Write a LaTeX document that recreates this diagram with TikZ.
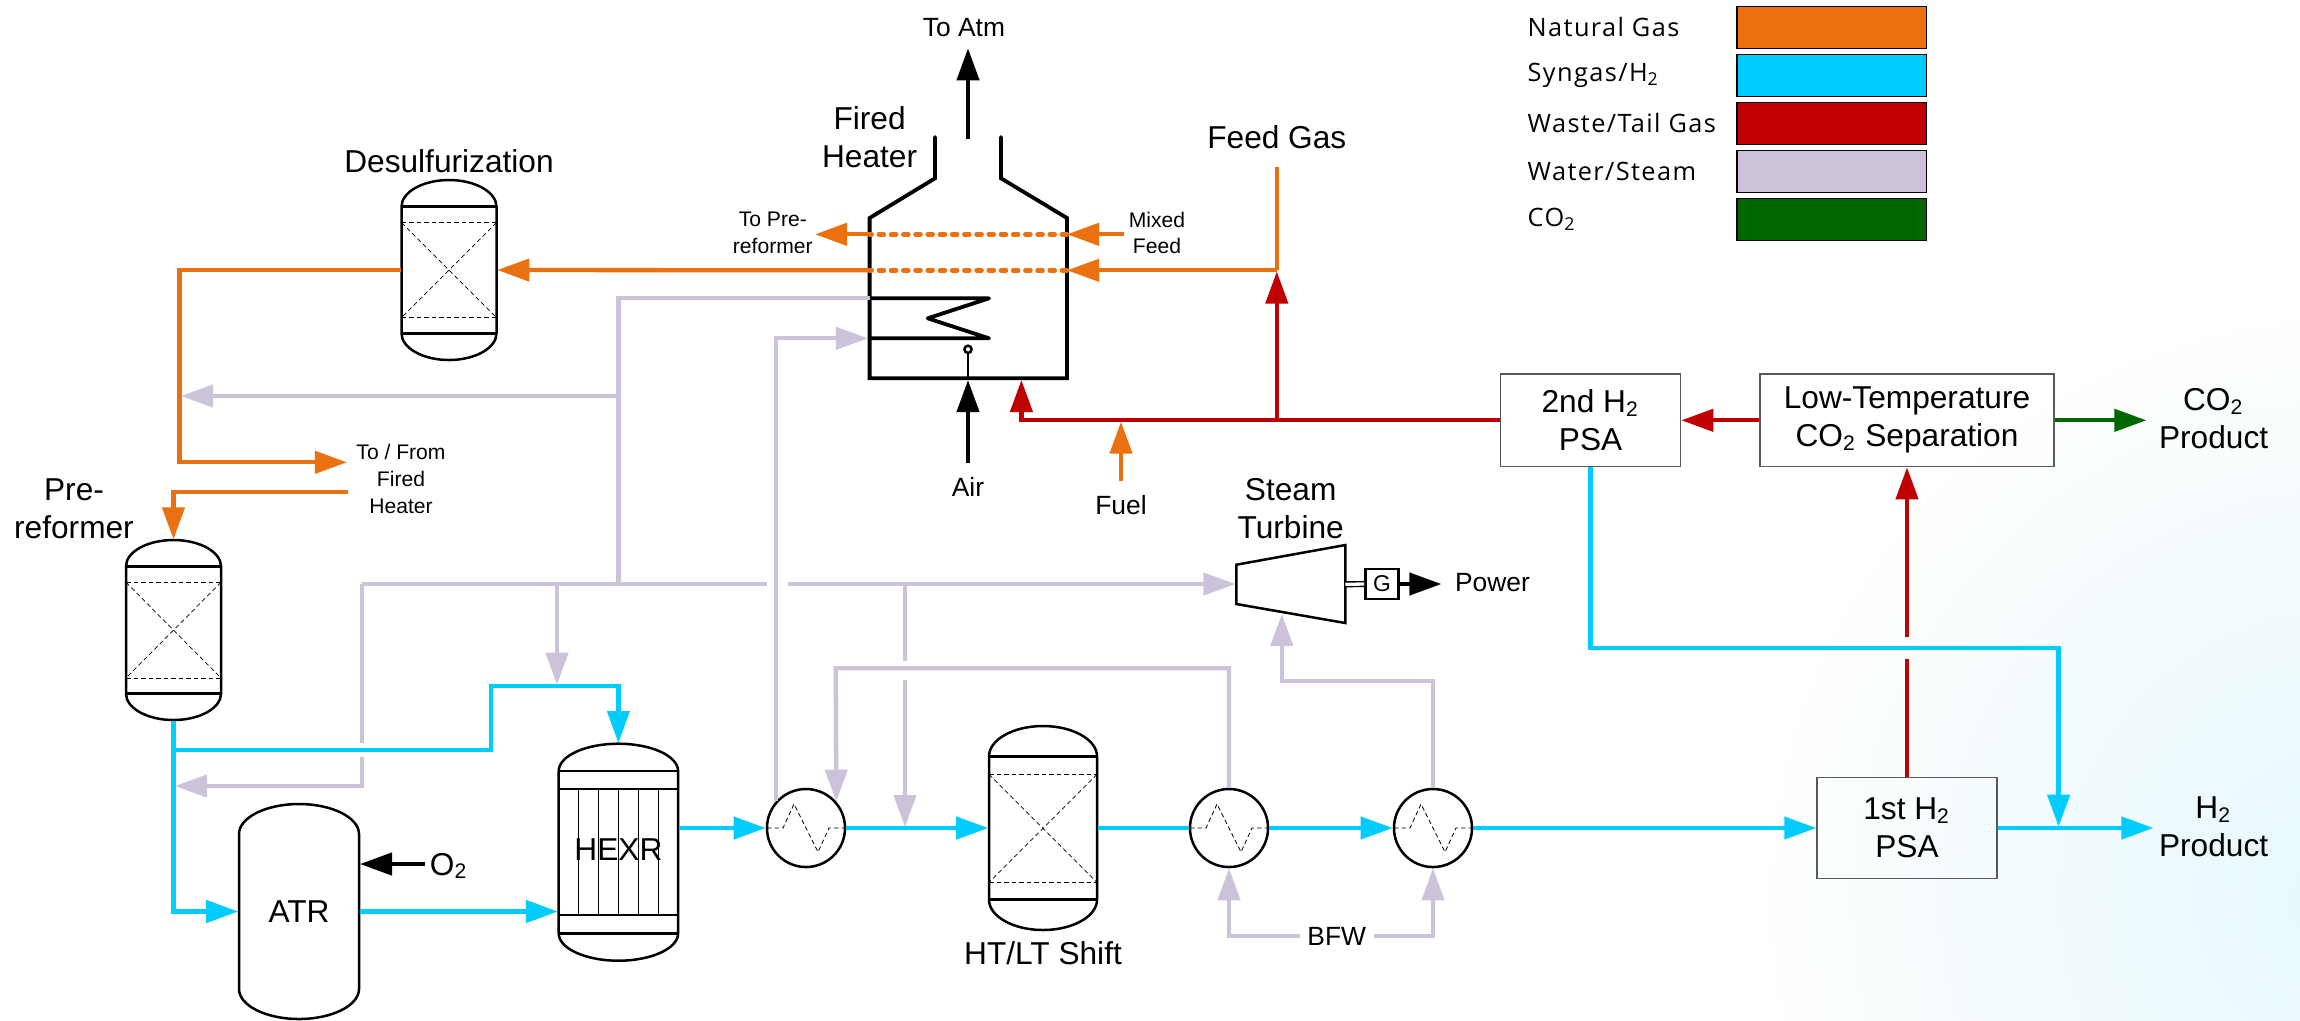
\documentclass[tikz,border=0pt]{standalone}
\usepackage{fontspec}
\setmainfont{Liberation Sans}
\newfontfamily\legendfont[LetterSpace=5.5]{Open Sans}
\usepackage{xcolor}
\usetikzlibrary{arrows.meta}
\definecolor{myorange}{RGB}{235,113,16}
\definecolor{myblue}{RGB}{0,204,255}
\definecolor{myred}{RGB}{192,0,0}
\definecolor{mypurple}{RGB}{204,195,219}
\definecolor{mygreen}{RGB}{0,102,0}
\definecolor{mybg}{RGB}{229,247,252}
\tikzset{
  arrowend/.style={-{Triangle[length=3.2mm,width=2.2mm]}},
  stream/.style={line width=0.43mm,line join=miter},
  gasline/.style={stream,myorange},
  synline/.style={stream,myblue},
  tailline/.style={stream,myred},
  steamline/.style={stream,mypurple},
  coline/.style={stream,mygreen},
  blackline/.style={stream,black},
  vesselline/.style={line width=0.25mm,black},
  heaterline/.style={line width=0.38mm,black,line join=miter},
  thindash/.style={line width=0.1mm,black,dash pattern=on 0.45mm off 0.3mm},
  dotline/.style={line width=0.46mm,myorange,line cap=round,dash pattern=on 0.5mm off 0.72mm},
  bigtext/.style={font=\fontsize{9}{10.8}\selectfont,align=center},
  midtext/.style={font=\fontsize{7.5}{9}\selectfont,align=center},
  smalltext/.style={font=\fontsize{6}{7.6}\selectfont,align=center},
  unitbox/.style={draw=black!65,line width=0.13mm,bigtext,inner sep=0},
  exchanger/.style={draw,circle,vesselline,minimum size=7.8mm,inner sep=0},
  swatch/.style={draw=black,line width=0.14mm,minimum width=18.9mm,minimum height=4.2mm,inner sep=0},
  legendtext/.style={font=\fontsize{7.2}{9}\legendfont,anchor=west,inner sep=0},
}
% vessel: name, centre x, top, bottom, half width, head height
\newcommand{\vessel}[6]{
  \node[inner sep=0,minimum width={#5*0.02cm},minimum height={(#4-#3)*0.01cm}] (#1) at (#2,{(#3+#4)/2}) {};
  \draw[vesselline] ({#2-#5},{#3+#6}) .. controls ({#2-#5},{#3+0.45*#6}) and ({#2-0.55*#5},#3) .. (#2,#3)
    .. controls ({#2+0.55*#5},#3) and ({#2+#5},{#3+0.45*#6}) .. ({#2+#5},{#3+#6})
    -- ({#2+#5},{#4-#6}) .. controls ({#2+#5},{#4-0.45*#6}) and ({#2+0.55*#5},#4) .. (#2,#4)
    .. controls ({#2-0.55*#5},#4) and ({#2-#5},{#4-0.45*#6}) .. ({#2-#5},{#4-#6}) -- cycle;
}
% catalyst bed: centre x, dashed top, dashed bottom, half width
\newcommand{\catbed}[4]{
  \draw[thindash] ({#1-#4},#2) -- ({#1+#4},#2);
  \draw[thindash] ({#1-#4},#3) -- ({#1+#4},#3);
  \draw[thindash,line width=0.07mm] ({#1-#4},#2) -- ({#1+#4},#3);
  \draw[thindash,line width=0.07mm] ({#1+#4},#2) -- ({#1-#4},#3);
}
\newcommand{\hxcoil}[1]{
  \draw[thindash,line width=0.08mm,shift={(#1.center)}] (-39,0) -- (-23,0) -- (-12,-24) -- (12,24) -- (23,0) -- (39,0);
}

\begin{document}
\begin{tikzpicture}[x=0.01cm,y=-0.01cm]
\useasboundingbox (0,0) rectangle (2300,1020);
\begin{scope}
\clip (0,0) rectangle (2300,1020);
\shade[inner color=mybg,outer color=white] (2351,900) circle [radius=617];
\end{scope}

% legend
\node[swatch,fill=myorange] (swgas) at (1831.7,27.2) {};
\node[swatch,fill=myblue] (swsyn) at (1831.7,75.2) {};
\node[swatch,fill=myred] (swtail) at (1831.7,123.2) {};
\node[swatch,fill=mypurple] (swsteam) at (1831.7,171.2) {};
\node[swatch,fill=mygreen] (swco) at (1831.7,219.2) {};
\node[legendtext] (lgas) at (1527,27) {Natural Gas};
\node[legendtext] (lsyn) at (1527,75) {Syngas/H\textsubscript{2}};
\node[legendtext] (ltail) at (1527,123) {Waste/Tail Gas};
\node[legendtext] (lsteam) at (1527,171) {Water/Steam};
\node[legendtext] (lco) at (1527,219) {CO\textsubscript{2}};

% vessels
\vessel{desulf}{449}{180}{360}{47.5}{26.7}
\draw[vesselline] (401.5,206.7) -- (496.5,206.7);
\draw[vesselline] (401.5,333.3) -- (496.5,333.3);
\catbed{449}{222.7}{317.7}{47.5}

\vessel{prerefm}{173.5}{540}{720}{47.5}{26.3}
\draw[vesselline] (126,566.3) -- (221,566.3);
\draw[vesselline] (126,693.7) -- (221,693.7);
\catbed{173.5}{582.3}{678}{47.5}

\vessel{atr}{299}{804}{1019}{60}{30}

\vessel{hexr}{618.4}{743.7}{960.7}{59.7}{27.3}
\draw[vesselline] (558.7,771) -- (678.1,771);
\draw[vesselline] (558.7,933.4) -- (678.1,933.4);
\draw[vesselline,line width=0.13mm] (558.7,789) -- (678.1,789);
\draw[vesselline,line width=0.13mm] (558.7,915) -- (678.1,915);
\draw[vesselline,line width=0.11mm] (578.6,789) -- (578.6,915);
\draw[vesselline,line width=0.11mm] (598.5,789) -- (598.5,915);
\draw[vesselline,line width=0.11mm] (618.4,789) -- (618.4,915);
\draw[vesselline,line width=0.11mm] (638.3,789) -- (638.3,915);
\draw[vesselline,line width=0.11mm] (658.2,789) -- (658.2,915);

\vessel{shiftr}{1043}{726}{930}{54}{30.3}
\draw[vesselline] (989,756.3) -- (1097,756.3);
\draw[vesselline] (989,899.7) -- (1097,899.7);
\catbed{1043}{774.3}{882.3}{54}

\node[exchanger] (hxa) at (806,828) {};
\node[exchanger] (hxb) at (1229,828) {};
\node[exchanger] (hxc) at (1433,828) {};
\hxcoil{hxa}
\hxcoil{hxb}
\hxcoil{hxc}

% fired heater
\draw[heaterline,line cap=round] (935,137) -- (935,178.3) -- (869.6,218) -- (869.6,378.3) -- (1067,378.3) -- (1067,218) -- (1001,178.3) -- (1001,137);
\draw[heaterline,line join=round] (869.6,298.3) -- (989,298.3) -- (927.7,318.3) -- (989,338.3) -- (869.6,338.3);
\coordinate (burnbase) at (968,378.3);
\draw[vesselline] (burnbase) -- (968,353);
\draw[vesselline] (968,349.3) ellipse [x radius=3.6,y radius=3.6];

% turbine and generator
\draw[vesselline,line join=miter] (1236.3,564.7) -- (1345.3,545) -- (1345.3,623) -- (1236.3,604) -- cycle;
\node[draw,vesselline,minimum width=3.34mm,minimum height=2.97mm,inner sep=0,font=\fontsize{6.5}{8}\selectfont] (gen) at (1382,584) {G};
\coordinate (shaft) at (1345.3,584.3);
\draw[line width=0.14mm,double,double distance=0.33mm] (shaft) -- (gen.west);

% boxes
\node[unitbox,minimum width=18mm,minimum height=10.06mm] (psaa) at (1907,828) {1st H\textsubscript{2}\\PSA};
\node[unitbox,minimum width=18mm,minimum height=9.27mm] (psab) at (1590.6,420.3) {2nd H\textsubscript{2}\\PSA};
\node[unitbox,minimum width=29.38mm,minimum height=9.27mm] (lowt) at (1907,420.3) {Low-Temperature\\CO\textsubscript{2} Separation};

% labels
\node[bigtext] (ldes) at (449,160.7) {Desulfurization};
\node[bigtext] (lpre) at (74,509) {Pre-\\reformer};
\node[bigtext] (lfired) at (869.6,136.7) {Fired\\Heater};
\node[bigtext] (lfeed) at (1276.8,136.7) {Feed Gas};
\node[bigtext] (lturb) at (1290.7,509) {Steam\\Turbine};
\node[bigtext] (latr) at (299,912) {ATR};
\node[bigtext] (lhexr) at (618.4,850) {HEXR};
\node[bigtext] (lshift) at (1043,952.7) {HT/LT Shift};
\node[bigtext,inner sep=3.4pt] (coprod) at (2213.6,419) {CO\textsubscript{2}\\Product};
\node[bigtext,inner sep=1.4pt] (htwoprod) at (2213.6,827) {H\textsubscript{2}\\Product};
\node[midtext] (latm) at (964,27.7) {To Atm};
\node[midtext] (lair) at (968,486.7) {Air};
\node[midtext] (lfuel) at (1121,505) {Fuel};
\node[midtext,inner sep=3.7pt] (lpower) at (1492.5,583) {Power};
\node[midtext,inner sep=2pt] (bfw) at (1336.7,936) {BFW};
\node[bigtext] (ltwo) at (449,866) {O\textsubscript{2}};
\node[smalltext] (ltopre) at (772.8,233) {To Pre-\\reformer};
\node[smalltext] (lmixed) at (1157,233) {Mixed\\Feed};
\node[smalltext] (ltofrom) at (401,479) {To / From\\Fired\\Heater};

% junctions and free ends
\coordinate (feedtop) at (1276.8,167);
\coordinate (feedjct) at (1276.8,270.3);
\coordinate (feedin) at (1067,270.3);
\coordinate (feedout) at (869.6,270.3);
\coordinate (mixstart) at (1124,234.3);
\coordinate (mixin) at (1067,234.3);
\coordinate (mixout) at (869.6,234.3);
\coordinate (mixtip) at (815,234.3);
\coordinate (gasdrop) at (179.6,462.3);
\coordinate (gastip) at (347,462.3);
\coordinate (gasback) at (348,492);
\coordinate (fuelstart) at (1121,481);
\coordinate (fueltip) at (1121,421.7);
\coordinate (tailtip) at (1021.4,380);
\coordinate (tailjct) at (1276.8,420.3);
\coordinate (tailup) at (1276.8,271.5);
\coordinate (redlow) at (1907,659);
\coordinate (redhigh) at (1907,637);
\coordinate (steamtop) at (869.6,298.3);
\coordinate (steamhdr) at (618.4,584);
\coordinate (steamtee) at (618.4,396);
\coordinate (steamtip) at (181,396);
\coordinate (hdrleft) at (362,584);
\coordinate (hdrgapa) at (767,584);
\coordinate (hdrgapb) at (788,584);
\coordinate (turbin) at (1235.5,584);
\coordinate (loopa) at (362,742.7);
\coordinate (loopb) at (362,756.7);
\coordinate (looptip) at (175,786);
\coordinate (hextee) at (557,584);
\coordinate (hextip) at (557,684.7);
\coordinate (coilin) at (868,338.3);
\coordinate (hxloop) at (835.7,668.3);
\coordinate (dropa) at (905,584);
\coordinate (dropb) at (905,661);
\coordinate (dropc) at (905,680);
\coordinate (dropd) at (905,827);
\coordinate (turbup) at (1281.8,681);
\coordinate (turbtip) at (1281.8,614);
\coordinate (synjct) at (173.5,750);
\coordinate (synkink) at (490.8,686);
\coordinate (psadrop) at (2058.6,648.3);
\coordinate (psatip) at (2058.6,826.7);
\coordinate (stacktop) at (968,139.3);
\coordinate (stacktip) at (968,48.3);
\coordinate (airstart) at (968,462.7);
\coordinate (airtip) at (968,380);
\coordinate (twostart) at (424.5,864);
\coordinate (twotip) at (360,864);

% draw the streams
\draw[steamline] (steamtop) -| (steamhdr);
\draw[steamline,arrowend] (steamtee) -- (steamtip);
\draw[steamline] (hdrleft) -- (hdrgapa);
\draw[steamline,arrowend] (hdrgapb) -- (turbin);
\draw[steamline] (hdrleft) -- (loopa);
\draw[steamline,arrowend] (loopb) |- (looptip);
\draw[steamline,arrowend] (hextee) -- (hextip);
\draw[steamline,arrowend] (hxa.138) |- (coilin);
\draw[steamline,arrowend] (hxb.north) |- (hxloop) -- (hxa.41);
\draw[steamline] (dropa) -- (dropb);
\draw[steamline,arrowend] (dropc) -- (dropd);
\draw[steamline,arrowend] (hxc.north) |- (turbup) -- (turbtip);
\draw[steamline,arrowend] (bfw.west) -| (hxb.south);
\draw[steamline,arrowend] (bfw.east) -| (hxc.south);

\draw[gasline] (feedtop) -- (feedjct);
\draw[gasline,arrowend] (feedjct) -- (feedin);
\draw[dotline] (feedin) -- (feedout);
\draw[gasline,arrowend] (feedout) -- (desulf.east);
\draw[gasline,arrowend] (mixstart) -- (mixin);
\draw[dotline] (mixin) -- (mixout);
\draw[gasline,arrowend] (mixout) -- (mixtip);
\draw[gasline,arrowend] (desulf.west) -| (gasdrop) -- (gastip);
\draw[gasline,arrowend] (gasback) -| (prerefm.north);
\draw[gasline,arrowend] (fuelstart) -- (fueltip);

\draw[tailline,arrowend] (psab.west) -| (tailtip);
\draw[tailline,arrowend] (tailjct) -- (tailup);
\draw[tailline,arrowend] (lowt.west) -- (psab.east);
\draw[tailline] (psaa.north) -- (redlow);
\draw[tailline,arrowend] (redhigh) -- (lowt.south);

\draw[synline,arrowend] (prerefm.south) |- (atr.west);
\draw[synline,arrowend] (synjct) -| (synkink) -| (hexr.north);
\draw[synline,arrowend] (atr.east) -- (hexr.west |- atr.east);
\draw[synline,arrowend] (hexr.east |- hxa.west) -- (hxa.west);
\draw[synline,arrowend] (hxa.east) -- (shiftr.west);
\draw[synline] (shiftr.east) -- (hxb.west);
\draw[synline,arrowend] (hxb.east) -- (hxc.west);
\draw[synline,arrowend] (hxc.east) -- (psaa.west);
\draw[synline,arrowend] (psaa.east) -- (psaa.east -| htwoprod.west);
\draw[synline,arrowend] (psab.south) |- (psadrop) -- (psatip);

\draw[coline,arrowend] (lowt.east) -- (lowt.east -| coprod.west);

\draw[blackline,arrowend] (stacktop) -- (stacktip);
\draw[blackline,arrowend] (airstart) -- (airtip);
\draw[blackline,arrowend] (twostart) -- (twotip);
\draw[blackline,arrowend] (gen.east) -- (gen.east -| lpower.west);

\end{tikzpicture}
\end{document}
